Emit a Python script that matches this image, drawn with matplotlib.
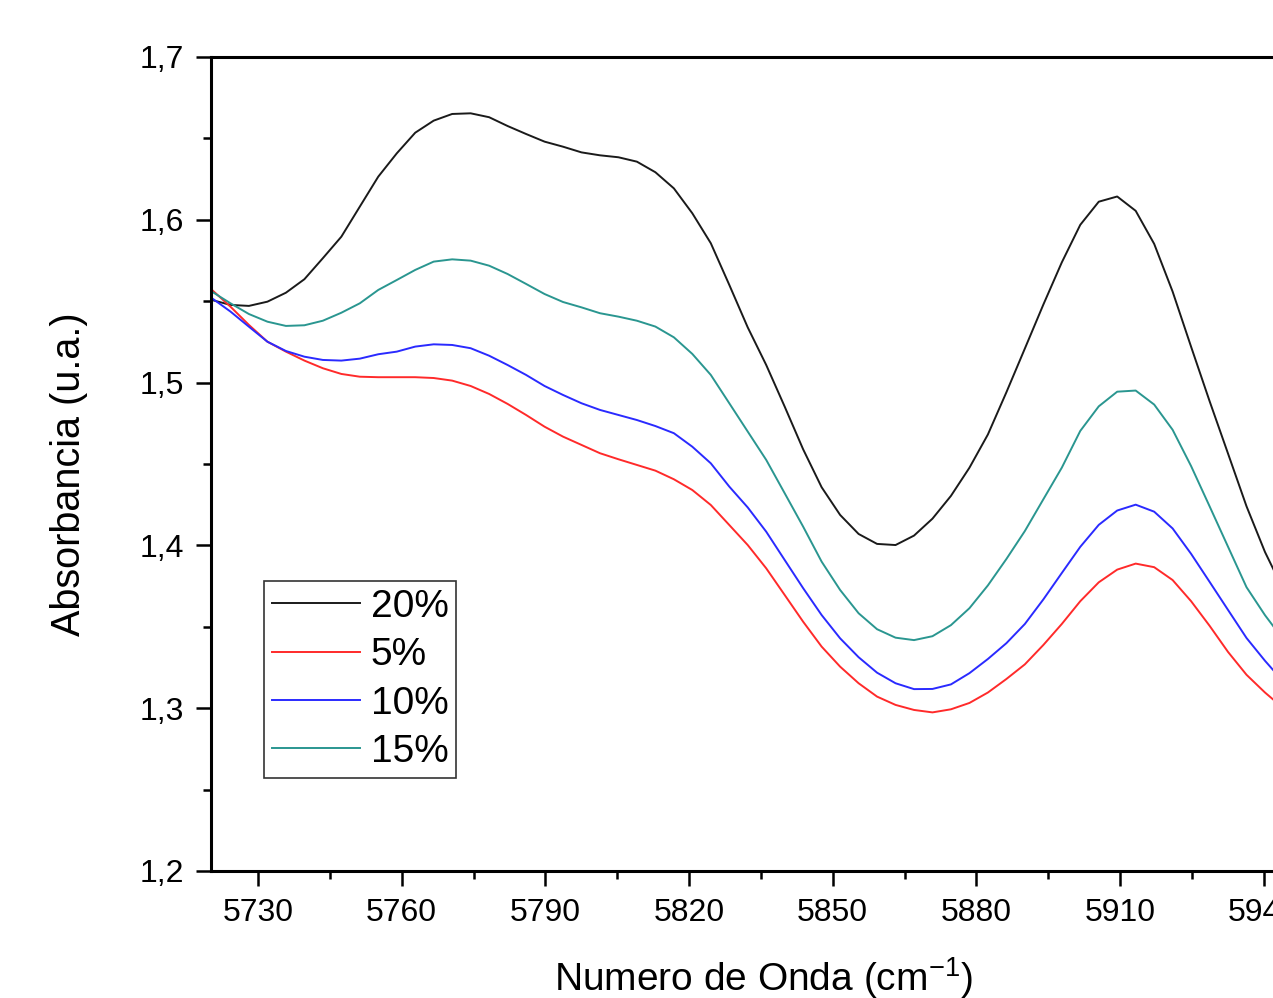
import matplotlib
matplotlib.use("Agg")
import matplotlib.pyplot as plt
from matplotlib.ticker import MultipleLocator, FuncFormatter

plt.rcParams['font.family'] = ['Liberation Sans', 'DejaVu Sans']
plt.rcParams['mathtext.fontset'] = 'custom'
plt.rcParams['mathtext.rm'] = 'Liberation Sans'

# wavenumber grid (cm-1)
wavenumber = [5720.40, 5724.26, 5728.11, 5731.97, 5735.83, 5739.69, 5743.54, 5747.40,
              5751.26, 5755.11, 5758.97, 5762.83, 5766.68, 5770.54, 5774.40, 5778.26,
              5782.11, 5785.97, 5789.83, 5793.68, 5797.54, 5801.40, 5805.25, 5809.11,
              5812.97, 5816.83, 5820.68, 5824.54, 5828.40, 5832.25, 5836.11, 5839.97,
              5843.82, 5847.68, 5851.54, 5855.40, 5859.25, 5863.11, 5866.97, 5870.82,
              5874.68, 5878.54, 5882.39, 5886.25, 5890.11, 5893.97, 5897.82, 5901.68,
              5905.54, 5909.39, 5913.25, 5917.11, 5920.96, 5924.82, 5928.68, 5932.54,
              5936.39, 5940.25, 5944.11]

abs_20 = [1.5507, 1.5477, 1.5471, 1.5497, 1.5552, 1.5635, 1.5764, 1.5896, 1.6081, 1.6265,
          1.6408, 1.6535, 1.6609, 1.6650, 1.6654, 1.6630, 1.6576, 1.6527, 1.6480, 1.6449,
          1.6414, 1.6396, 1.6384, 1.6357, 1.6292, 1.6193, 1.6040, 1.5856, 1.5600, 1.5339,
          1.5108, 1.4852, 1.4590, 1.4357, 1.4187, 1.4070, 1.4009, 1.4002, 1.4060, 1.4164,
          1.4304, 1.4477, 1.4681, 1.4940, 1.5209, 1.5479, 1.5738, 1.5969, 1.6111, 1.6143,
          1.6055, 1.5852, 1.5559, 1.5220, 1.4886, 1.4563, 1.4240, 1.3959, 1.3726]

abs_5 = [1.5569, 1.5466, 1.5354, 1.5251, 1.5190, 1.5135, 1.5088, 1.5053, 1.5036, 1.5033,
         1.5033, 1.5033, 1.5028, 1.5012, 1.4979, 1.4930, 1.4869, 1.4801, 1.4729, 1.4668,
         1.4617, 1.4566, 1.4529, 1.4494, 1.4459, 1.4406, 1.4340, 1.4248, 1.4125, 1.4002,
         1.3859, 1.3695, 1.3531, 1.3378, 1.3255, 1.3153, 1.3071, 1.3020, 1.2989, 1.2974,
         1.2993, 1.3032, 1.3096, 1.3179, 1.3269, 1.3388, 1.3517, 1.3657, 1.3773, 1.3851,
         1.3888, 1.3866, 1.3787, 1.3657, 1.3506, 1.3345, 1.3205, 1.3096, 1.2999]

abs_10 = [1.5518, 1.5436, 1.5343, 1.5251, 1.5194, 1.5159, 1.5139, 1.5135, 1.5147, 1.5174,
          1.5190, 1.5221, 1.5235, 1.5231, 1.5211, 1.5165, 1.5108, 1.5047, 1.4979, 1.4924,
          1.4873, 1.4832, 1.4801, 1.4770, 1.4733, 1.4689, 1.4606, 1.4504, 1.4361, 1.4233,
          1.4084, 1.3910, 1.3737, 1.3572, 1.3429, 1.3313, 1.3218, 1.3153, 1.3117, 1.3118,
          1.3146, 1.3215, 1.3302, 1.3399, 1.3517, 1.3668, 1.3830, 1.3991, 1.4126, 1.4214,
          1.4250, 1.4207, 1.4104, 1.3948, 1.3776, 1.3603, 1.3431, 1.3291, 1.3162]

abs_15 = [1.5558, 1.5487, 1.5421, 1.5374, 1.5348, 1.5352, 1.5380, 1.5429, 1.5487, 1.5569,
          1.5630, 1.5692, 1.5743, 1.5757, 1.5749, 1.5718, 1.5667, 1.5606, 1.5544, 1.5495,
          1.5462, 1.5426, 1.5405, 1.5380, 1.5344, 1.5278, 1.5176, 1.5047, 1.4873, 1.4699,
          1.4525, 1.4320, 1.4115, 1.3900, 1.3726, 1.3583, 1.3485, 1.3433, 1.3418, 1.3442,
          1.3510, 1.3614, 1.3754, 1.3916, 1.4088, 1.4283, 1.4477, 1.4703, 1.4854, 1.4944,
          1.4951, 1.4865, 1.4710, 1.4487, 1.4240, 1.3991, 1.3743, 1.3571, 1.3420]

series = [("20%", abs_20, "#1a1a1a"),
          ("5%", abs_5, "#ff2a2a"),
          ("10%", abs_10, "#2a2aff"),
          ("15%", abs_15, "#2a9690")]

fig = plt.figure(figsize=(12.73, 9.98), dpi=100)
# the plot runs off the right edge of the picture, as in the original
ax = fig.add_axes([0.1658, 0.1273, 0.8646, 0.8156])

for label, vals, col in series:
    ax.plot(wavenumber, vals, color=col, lw=1.4, label=label)

ax.set_xlim(5720.2, 5950)
ax.set_ylim(1.2, 1.7)

ax.xaxis.set_major_locator(MultipleLocator(30))
ax.xaxis.set_minor_locator(MultipleLocator(15))
ax.yaxis.set_major_locator(MultipleLocator(0.1))
ax.yaxis.set_minor_locator(MultipleLocator(0.05))
ax.yaxis.set_major_formatter(FuncFormatter(lambda v, p: f"{v:.1f}".replace(".", ",")))
ax.xaxis.set_major_formatter(FuncFormatter(lambda v, p: f"{v:.0f}"))

for side in ['left', 'bottom', 'top']:
    ax.spines[side].set_linewidth(2.2)
ax.spines['right'].set_visible(False)

ax.tick_params(which='major', direction='out', length=11, width=1.8,
               labelsize=23, pad=8.5, top=False, right=False)
ax.tick_params(which='minor', direction='out', length=5.5, width=1.8,
               top=False, right=False)

ax.set_xlabel("Numero de Onda (cm$^{\\mathrm{-1}}$)", fontsize=28)
ax.set_ylabel("Absorbancia (u.a.)", fontsize=28.5)
ax.xaxis.set_label_coords(0.502, -0.104)
ax.yaxis.set_label_coords(-0.112, 0.487)

leg = ax.legend(loc='upper left', bbox_to_anchor=(0.0482, 0.3563), borderaxespad=0,
                fontsize=28, frameon=True, fancybox=False, framealpha=1,
                edgecolor='#333333', handlelength=2.26, handletextpad=0.28,
                labelspacing=0.32, borderpad=0.2)
leg.get_frame().set_linewidth(1.2)

fig.savefig("out.png", dpi=100)
